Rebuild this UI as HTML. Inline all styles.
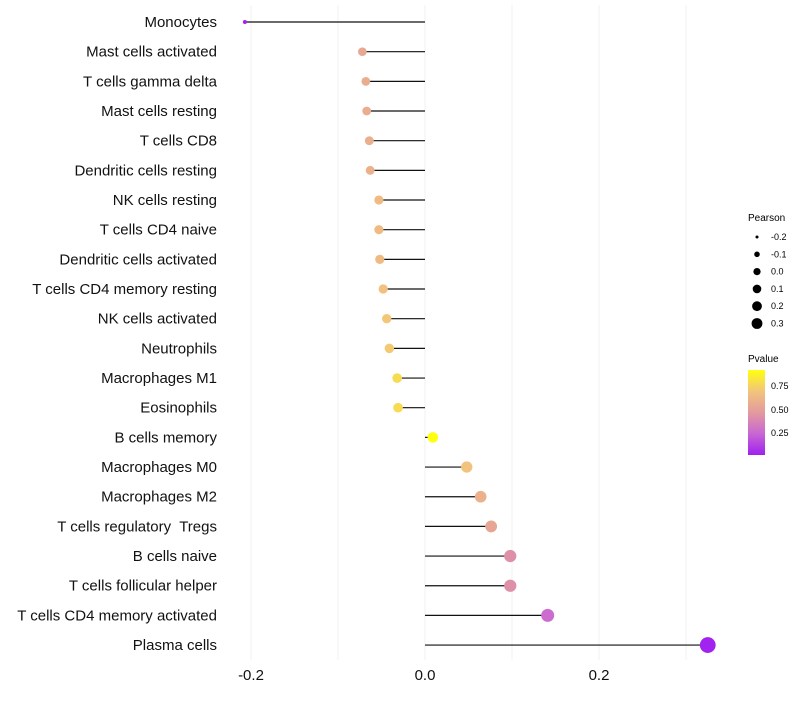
<!DOCTYPE html>
<html><head><meta charset="utf-8"><style>
body{margin:0;background:#fff;font-family:"Liberation Sans",sans-serif}
text{white-space:pre}
</style></head><body>
<svg id="chart" width="800" height="700">
<defs><linearGradient id="pg" x1="0" y1="1" x2="0" y2="0">
<stop offset="0" stop-color="#A020F0"/><stop offset="0.25" stop-color="#C866D4"/>
<stop offset="0.5" stop-color="#E39A9E"/><stop offset="0.75" stop-color="#F2C47C"/>
<stop offset="1" stop-color="#FFFF10"/></linearGradient></defs>
<g id="grid"></g>
<g id="marks"></g>
<g id="labels"></g>
<g id="xt"></g>
<g id="sleg">
<text x="748" y="221" font-size="10">Pearson</text>
</g>
<g>
<text x="748" y="362" font-size="10">Pvalue</text>
<rect x="748" y="370" width="17" height="85" fill="url(#pg)"/>
<text x="771" y="389" font-size="9">0.75</text>
<text x="771" y="413" font-size="9">0.50</text>
<text x="771" y="436" font-size="9">0.25</text>
</g>
</svg>
<script>
const categories=["Monocytes","Mast cells activated","T cells gamma delta","Mast cells resting","T cells CD8","Dendritic cells resting","NK cells resting","T cells CD4 naive","Dendritic cells activated","T cells CD4 memory resting","NK cells activated","Neutrophils","Macrophages M1","Eosinophils","B cells memory","Macrophages M0","Macrophages M2","T cells regulatory  Tregs","B cells naive","T cells follicular helper","T cells CD4 memory activated","Plasma cells"];
const pearson=[-0.207,-0.072,-0.068,-0.067,-0.064,-0.063,-0.053,-0.053,-0.052,-0.048,-0.044,-0.041,-0.032,-0.031,0.009,0.048,0.064,0.076,0.098,0.098,0.141,0.325];
const pvalues=[0.02,0.56,0.58,0.58,0.59,0.6,0.66,0.66,0.66,0.69,0.72,0.73,0.8,0.8,0.96,0.7,0.6,0.54,0.43,0.43,0.27,0.02];
const xTicks=[-0.2,0.0,0.2];
const xTickLabels=["-0.2","0.0","0.2"];
const sizeLegendVals=[-0.2,-0.1,0.0,0.1,0.2,0.3];
const NS="http://www.w3.org/2000/svg";
const X=v=>425+v*870;
const Y=i=>22+i*29.67;
const R=v=>Math.sqrt(Math.max(1,4+110*(v+0.207)));
const stops=[[0,[160,32,240]],[0.25,[200,102,212]],[0.5,[227,154,158]],[0.75,[242,196,124]],[1,[255,255,16]]];
function col(p){let t=(p-0.01)/(0.93);t=Math.max(0,Math.min(1,t));
for(let k=1;k<stops.length;k++){if(t<=stops[k][0]){const a=stops[k-1],b=stops[k];const f=(t-a[0])/(b[0]-a[0]);
return "rgb("+a[1].map((c,j)=>Math.round(c+(b[1][j]-c)*f)).join(",")+")";}}return "rgb(255,255,16)";}
function mk(t,a,p){const e=document.createElementNS(NS,t);for(const k in a)e.setAttribute(k,a[k]);p.appendChild(e);return e;}
const grid=document.getElementById('grid');
[-0.2,-0.1,0,0.1,0.2,0.3].forEach(v=>{
const l=mk('line',{x1:X(v),x2:X(v),y1:5,y2:660,stroke:'#f2f2f2','stroke-width':1},grid);


});
const marks=document.getElementById('marks'),labels=document.getElementById('labels');
categories.forEach((c,i)=>{
const y=Y(i);
const ln=mk('line',{x1:X(0),x2:X(pearson[i]),y1:y,y2:y,stroke:'#111','stroke-width':1.2},marks);


const pt=mk('circle',{cx:X(pearson[i]),cy:y,r:R(pearson[i]),fill:col(pvalues[i])},marks);


const tx=mk('text',{x:217,y:y+5,'text-anchor':'end','font-size':15,fill:'#111'},labels);
tx.textContent=c;


});
const xt=document.getElementById('xt');
xTicks.forEach((v,i)=>{
const t=mk('text',{x:X(v),y:680,'text-anchor':'middle','font-size':15,fill:'#111'},xt);
t.textContent=xTickLabels[i];


});
const sl=document.getElementById('sleg');
sizeLegendVals.forEach((v,i)=>{
const y=237+i*17.3;
const c=mk('circle',{cx:757,cy:y,r:R(v)*0.7,fill:'#000'},sl);


const t=mk('text',{x:771,y:y+3,'font-size':9},sl);
t.textContent=v.toFixed(1);


});
</script>
</body></html>
